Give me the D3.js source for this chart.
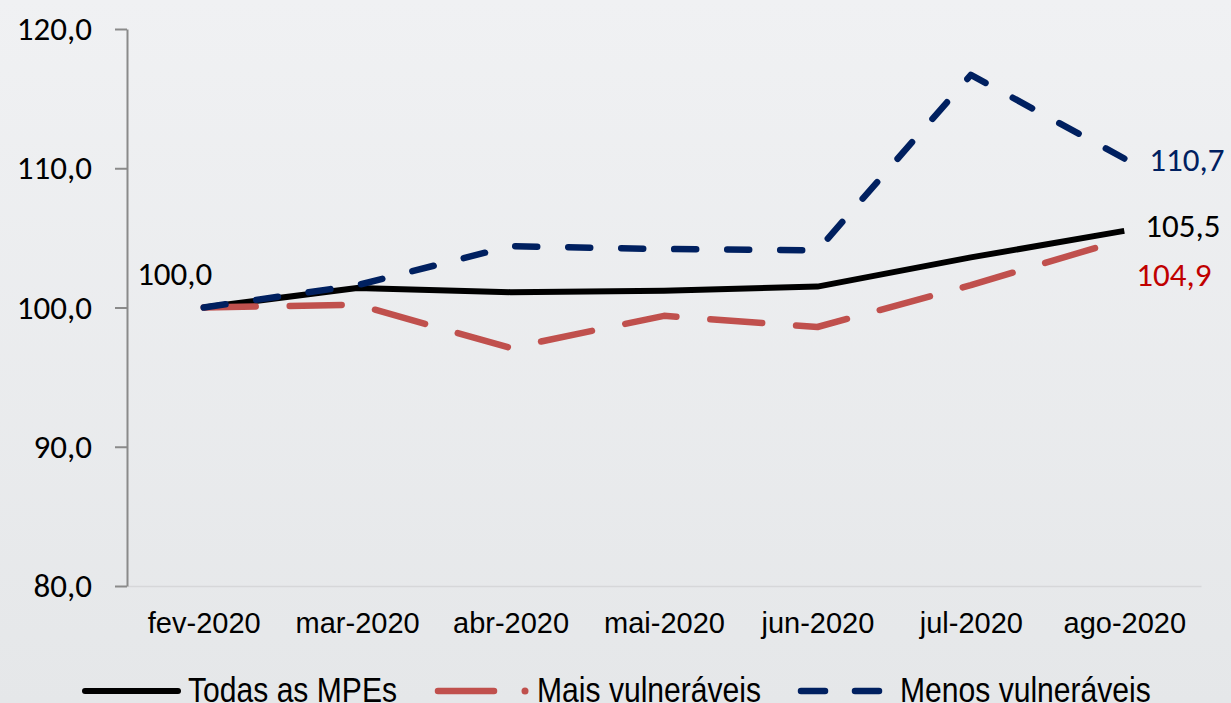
<!DOCTYPE html>
<html>
<head>
<meta charset="utf-8">
<script src="https://cdn.jsdelivr.net/npm/d3@7"></script>
<style>
  html, body { margin: 0; padding: 0; overflow: hidden; }
  svg { display: block; }
</style>
</head>
<body>
<div id="chart"></div>
<script>
// chart data
var months = ["fev-2020", "mar-2020", "abr-2020", "mai-2020", "jun-2020", "jul-2020", "ago-2020"];
var todas = [100.0, 101.4, 101.1, 101.2, 101.5, 103.6, 105.5];
var maisVuln = [100.0, 100.2, 97.1, 99.4, 98.6, 101.6, 104.9];
var menosVuln = [100.0, 101.6, 104.4, 104.2, 104.1, 116.7, 110.7];
var yTicks = [80, 90, 100, 110, 120];
var seriesNames = ["Todas as MPEs", "Mais vulneráveis", "Menos vulneráveis"];

var width = 1231, height = 703;
var labelFont = "Carlito, Lato, sans-serif";
var axisFont = "'Liberation Sans', Arial, sans-serif";

var svg = d3.select("#chart").append("svg")
    .attr("width", width)
    .attr("height", height);

var defs = svg.append("defs");
var grad = defs.append("linearGradient")
    .attr("id", "bg")
    .attr("x1", 0).attr("y1", 0).attr("x2", 0).attr("y2", 1);
grad.append("stop").attr("offset", "0%").attr("stop-color", "#f0f1f3");
grad.append("stop").attr("offset", "100%").attr("stop-color", "#e5e7e9");

svg.append("rect")
    .attr("width", width)
    .attr("height", height)
    .attr("fill", "url(#bg)");

var xScale = d3.scalePoint()
    .domain(months)
    .range([127, 1201])
    .padding(0.5);

var yScale = d3.scaleLinear()
    .domain([80, 120])
    .range([586, 29]);

// x axis: light line, labels only
var xAxis = svg.append("g")
    .attr("transform", "translate(0,586)")
    .call(d3.axisBottom(xScale).tickSize(0).tickPadding(0));
xAxis.select(".domain").attr("stroke", "#d6d7d9").attr("stroke-width", 1.5);
xAxis.selectAll("text")
    .attr("y", 47)
    .attr("dy", 0)
    .attr("font-family", axisFont)
    .attr("font-size", 29)
    .attr("fill", "#000");

// y axis
var yAxis = svg.append("g")
    .attr("transform", "translate(127,0)")
    .call(d3.axisLeft(yScale)
        .tickValues(yTicks)
        .tickSize(12)
        .tickSizeOuter(0)
        .tickPadding(23)
        .tickFormat(function (d) { return d3.format(".1f")(d).replace(".", ","); }));
yAxis.select(".domain").attr("stroke", "#8a8a8a").attr("stroke-width", 2);
yAxis.selectAll(".tick line").attr("stroke", "#8a8a8a").attr("stroke-width", 2);
yAxis.selectAll("text")
    .attr("font-family", labelFont)
    .attr("font-size", 33)
    .attr("fill", "#000");

var line = d3.line()
    .x(function (d, i) { return xScale(months[i]); })
    .y(function (d) { return yScale(d); });

var series = [
    { name: seriesNames[0], values: todas, color: "#000000", width: 6, dash: null },
    { name: seriesNames[1], values: maisVuln, color: "#c0504d", width: 6.5, dash: "52,34" },
    { name: seriesNames[2], values: menosVuln, color: "#002060", width: 6.5, dash: "22,31" }
];

series.forEach(function (s) {
    svg.append("path")
        .datum(s.values)
        .attr("d", line)
        .attr("fill", "none")
        .attr("stroke", s.color)
        .attr("stroke-width", s.width)
        .attr("stroke-linecap", s.dash ? "round" : "butt")
        .attr("stroke-linejoin", "round")
        .attr("stroke-dasharray", s.dash);
});

function fmt(v) { return d3.format(".1f")(v).replace(".", ","); }

// data labels
var last = months.length - 1;
var labels = [
    { text: fmt(todas[0]), x: xScale(months[0]) - 29, y: yScale(todas[0]) - 23, color: "#000", anchor: "middle" },
    { text: fmt(menosVuln[last]), x: xScale(months[last]) + 25, y: yScale(menosVuln[last]) + 12, color: "#002060", anchor: "start" },
    { text: fmt(todas[last]), x: xScale(months[last]) + 21, y: yScale(todas[last]) + 6, color: "#000", anchor: "start" },
    { text: fmt(maisVuln[last]), x: xScale(months[last]) + 12, y: yScale(maisVuln[last]) + 47, color: "#c00000", anchor: "start" }
];
svg.selectAll(".dlabel")
    .data(labels)
    .enter().append("text")
    .attr("class", "dlabel")
    .attr("x", function (d) { return d.x; })
    .attr("y", function (d) { return d.y; })
    .attr("text-anchor", function (d) { return d.anchor; })
    .attr("font-family", labelFont)
    .attr("font-size", 33)
    .attr("fill", function (d) { return d.color; })
    .text(function (d) { return d.text; });

// legend
var legend = svg.append("g");
var legY = 691;
legend.append("line")
    .attr("x1", 85).attr("x2", 178).attr("y1", legY).attr("y2", legY)
    .attr("stroke", series[0].color).attr("stroke-width", 6).attr("stroke-linecap", "round");
legend.append("line")
    .attr("x1", 438).attr("x2", 494).attr("y1", legY).attr("y2", legY)
    .attr("stroke", series[1].color).attr("stroke-width", 6.5).attr("stroke-linecap", "round");
legend.append("circle")
    .attr("cx", 525).attr("cy", legY).attr("r", 3.5)
    .attr("fill", series[1].color);
legend.append("line")
    .attr("x1", 801).attr("x2", 825).attr("y1", legY).attr("y2", legY)
    .attr("stroke", series[2].color).attr("stroke-width", 6.5).attr("stroke-linecap", "round");
legend.append("line")
    .attr("x1", 855).attr("x2", 879).attr("y1", legY).attr("y2", legY)
    .attr("stroke", series[2].color).attr("stroke-width", 6.5).attr("stroke-linecap", "round");

var legendText = [
    { text: seriesNames[0], x: 188 },
    { text: seriesNames[1], x: 537 },
    { text: seriesNames[2], x: 900 }
];
legend.selectAll(".ltext")
    .data(legendText)
    .enter().append("text")
    .attr("class", "ltext")
    .attr("transform", function (d) { return "translate(" + d.x + ",702) scale(0.86,1)"; })
    .attr("font-family", axisFont)
    .attr("font-size", 35)
    .attr("fill", "#000")
    .text(function (d) { return d.text; });
</script>
</body>
</html>
